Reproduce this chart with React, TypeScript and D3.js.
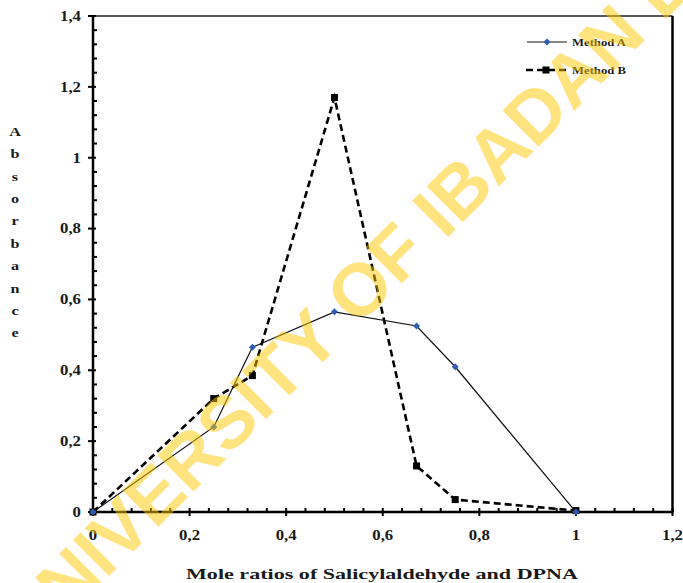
import React from "react";
import * as d3 from "d3";

const moleRatios = [0, 0.25, 0.33, 0.5, 0.67, 0.75, 1];
const methodA = [0, 0.24, 0.465, 0.565, 0.525, 0.41, 0];
const methodB = [0, 0.32, 0.385, 1.17, 0.13, 0.035, 0.004];
const xTicks = [0, 0.2, 0.4, 0.6, 0.8, 1, 1.2];
const yTicks = [0, 0.2, 0.4, 0.6, 0.8, 1, 1.2, 1.4];
const seriesNames = ["Method A", "Method B"];
const yTitle = "Absorbance";
const xTitle = "Mole ratios of Salicylaldehyde and DPNA";
const watermark = "UNIVERSITY OF IBADAN LIBRARY";

const W = 683;
const H = 583;
const left = 93;
const right = 672.5;
const top = 16;
const bottom = 512;

const fmt = (v: number) => String(+v.toFixed(2)).replace(".", ",");
const serif = "'Liberation Serif', 'Times New Roman', serif";

function SText(props: {
  x: number;
  y: number;
  sx?: number;
  size: number;
  anchor?: string;
  children: React.ReactNode;
}) {
  const { x, y, sx = 1.2, size, anchor = "start", children } = props;
  return (
    <text
      transform={`translate(${x},${y}) scale(${sx},1)`}
      dy="0.35em"
      textAnchor={anchor}
      fontFamily={serif}
      fontWeight="bold"
      fontSize={size}
      fill="#1a1a1a"
    >
      {children}
    </text>
  );
}

export default function App() {
  const x = d3.scaleLinear().domain([0, 1.2]).range([left, right]);
  const y = d3.scaleLinear().domain([0, 1.4]).range([bottom, top]);

  const ptsA = moleRatios.map((m, i) => [m, methodA[i]] as [number, number]);
  const ptsB = moleRatios.map((m, i) => [m, methodB[i]] as [number, number]);
  const line = d3
    .line<[number, number]>()
    .x((d) => x(d[0]))
    .y((d) => y(d[1]));

  const isMajor = (v: number) => Math.abs(v / 0.2 - Math.round(v / 0.2)) < 1e-6;
  const minorX = d3.range(0, 1.2001, 0.04).filter((v) => !isMajor(v));
  const minorY = d3.range(0, 1.4001, 0.04).filter((v) => !isMajor(v));

  const diamond = (cx: number, cy: number, r: number) =>
    `M${cx},${cy - r}L${cx + r},${cy}L${cx},${cy + r}L${cx - r},${cy}Z`;

  return (
    <svg
      width={W}
      height={H}
      style={{ position: "absolute", left: 0, top: 0, background: "#fff" }}
    >
      <rect x={0} y={0} width={W} height={H} fill="#fff" />
      {/* frame */}
      <line x1={left} x2={right} y1={top} y2={top} stroke="#222" strokeWidth={1.5} />
      <line x1={right} x2={right} y1={top} y2={bottom} stroke="#000" strokeWidth={2.5} />
      <line x1={left} x2={left} y1={top - 1} y2={bottom} stroke="#000" strokeWidth={2.5} />
      <line x1={left} x2={right + 1} y1={bottom} y2={bottom} stroke="#000" strokeWidth={2.5} />

      {/* x ticks */}
      {xTicks.map((t) => (
        <g key={"xt" + t}>
          <line x1={x(t)} x2={x(t)} y1={bottom - 4} y2={bottom + 4} stroke="#000" strokeWidth={2} />
          <SText x={x(t)} y={bottom + 23} size={14} anchor="middle">
            {fmt(t)}
          </SText>
        </g>
      ))}
      {minorX.map((t) => (
        <line key={"xm" + t} x1={x(t)} x2={x(t)} y1={bottom - 4} y2={bottom} stroke="#000" strokeWidth={2} />
      ))}
      {/* y ticks */}
      {yTicks.map((t) => (
        <g key={"yt" + t}>
          <line x1={left - 5} x2={left + 3} y1={y(t)} y2={y(t)} stroke="#000" strokeWidth={2} />
          <SText x={left - 12} y={y(t)} size={14} anchor="end">
            {fmt(t)}
          </SText>
        </g>
      ))}
      {minorY.map((t) => (
        <line key={"ym" + t} x1={left} x2={left + 4} y1={y(t)} y2={y(t)} stroke="#000" strokeWidth={2} />
      ))}

      {/* axis titles */}
      {yTitle.split("").map((c, i) => (
        <SText key={"yl" + i} x={15} y={131 + i * 22.4} size={13.5} anchor="middle">
          {c}
        </SText>
      ))}
      <text
        x={186}
        y={574}
        dy="0.35em"
        textLength={392}
        lengthAdjust="spacingAndGlyphs"
        fontFamily={serif}
        fontWeight="bold"
        fontSize={14.5}
        fill="#1a1a1a"
      >
        {xTitle}
      </text>

      {/* series */}
      <path d={line(ptsB) || ""} fill="none" stroke="#000" strokeWidth={2.6} strokeDasharray="7,4" />
      {ptsB.map((d, i) => (
        <rect key={"b" + i} x={x(d[0]) - 3.5} y={y(d[1]) - 3.5} width={7} height={7} fill="#000" />
      ))}
      <path d={line(ptsA) || ""} fill="none" stroke="#111" strokeWidth={1.2} />
      {ptsA.map((d, i) => (
        <path key={"a" + i} d={diamond(x(d[0]), y(d[1]), 3.5)} fill="#2F5DB0" />
      ))}

      {/* legend */}
      <line x1={527} x2={567} y1={42} y2={42} stroke="#111" strokeWidth={1.2} />
      <path d={diamond(547, 42, 3.5)} fill="#2F5DB0" />
      <text
        x={572}
        y={42}
        dy="0.35em"
        textLength={54}
        lengthAdjust="spacingAndGlyphs"
        fontFamily={serif}
        fontWeight="bold"
        fontSize={11}
        fill="#1a1a1a"
      >
        {seriesNames[0]}
      </text>
      <line x1={526} x2={568} y1={70} y2={70} stroke="#000" strokeWidth={2.6} strokeDasharray="7,4" />
      <rect x={542.5} y={66.5} width={7} height={7} fill="#000" />
      <text
        x={572}
        y={70}
        dy="0.35em"
        textLength={54}
        lengthAdjust="spacingAndGlyphs"
        fontFamily={serif}
        fontWeight="bold"
        fontSize={11}
        fill="#1a1a1a"
      >
        {seriesNames[1]}
      </text>

      {/* watermark */}
      <text
        transform="translate(30,655) rotate(-45)"
        fontFamily="'Liberation Sans', Arial, sans-serif"
        fontWeight="bold"
        fontSize={74}
        fill="#FFC800"
        fillOpacity={0.5}
      >
        {watermark}
      </text>
    </svg>
  );
}
